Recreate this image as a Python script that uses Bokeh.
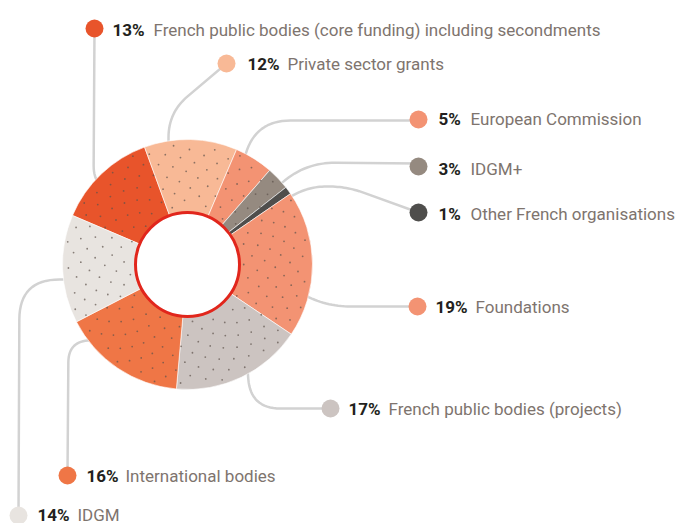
import math
from bokeh.plotting import figure
from bokeh.models import Range1d, ColumnDataSource
from bokeh.core.properties import value
from bokeh.embed import file_html
from bokeh.resources import INLINE

# ---- data ----
categories = [
    "French public bodies (core funding) including secondments",
    "Private sector grants",
    "European Commission",
    "IDGM+",
    "Other French organisations",
    "Foundations",
    "French public bodies (projects)",
    "International bodies",
    "IDGM",
]
shares = [13, 12, 5, 3, 1, 19, 17, 16, 14]
colors = ["#E8542B", "#F8B996", "#F39373", "#958A80", "#4F4E4C",
          "#F39373", "#CCC4C1", "#EF7646", "#E8E4E0"]

# ---- layout (pixel coordinates, y measured from top) ----
W, H = 677, 523
CX, CY = 187, 264
R_OUT, R_IN = 125, 52
START_DEG = 156.9

dot_xy = [(94, 28), (226, 63), (418, 119), (418, 166), (418, 212),
          (417, 306), (330, 408), (67, 475), (18, 515)]
pct_x = [112, 247, 438, 438, 438, 435, 348, 86, 37]
lab_x = [153, 287, 470, 470, 470, 475, 388, 125, 77]
txt_y = [29, 63, 118, 168, 213, 306, 408, 475, 514]

leaders = [
    ([(94, 28), (93, 190), (130, 190)], 25),
    ([(226, 63), (168, 112), (168, 165)], 25),
    ([(418, 120), (255, 120), (238, 178)], 35),
    ([(418, 163), (305, 162), (268, 194)], 30),
    ([(418, 212), (346, 186), (308, 186), (280, 202)], 18),
    ([(418, 306), (325, 306), (292, 288)], 25),
    ([(330, 408), (250, 408), (247, 368)], 30),
    ([(67, 475), (68, 340), (100, 340)], 22),
    ([(18, 515), (19, 279), (75, 279)], 40),
]

FONT = "Roboto"
FS = "17px"
N_SPECKS = 230  # decorative speckle texture on the ring


def Y(y):
    return H - y


def rounded(points, r):
    pts = [(x, Y(y)) for x, y in points]
    out = [pts[0]]
    for i in range(1, len(pts) - 1):
        ax, ay = pts[i - 1]
        px, py = pts[i]
        bx, by = pts[i + 1]
        d1 = math.hypot(ax - px, ay - py)
        d2 = math.hypot(bx - px, by - py)
        rr = min(r, d1 * 0.9, d2 * 0.9)
        u1 = ((ax - px) / d1, (ay - py) / d1)
        u2 = ((bx - px) / d2, (by - py) / d2)
        s = (px + u1[0] * rr, py + u1[1] * rr)
        e = (px + u2[0] * rr, py + u2[1] * rr)
        n = 16
        for k in range(n + 1):
            t = k / n
            x = (1 - t) ** 2 * s[0] + 2 * (1 - t) * t * px + t ** 2 * e[0]
            y = (1 - t) ** 2 * s[1] + 2 * (1 - t) * t * py + t ** 2 * e[1]
            out.append((x, y))
    out.append(pts[-1])
    return [p[0] for p in out], [p[1] for p in out]


p = figure(width=W, height=H, x_range=Range1d(0, W), y_range=Range1d(0, H),
           output_backend="svg", toolbar_location=None, min_border=0)
p.axis.visible = False
p.grid.visible = False
p.outline_line_color = None
p.background_fill_color = "white"
p.border_fill_color = "white"

# leader lines
xs, ys = [], []
for pts, r in leaders:
    lx, ly = rounded(pts, r)
    xs.append(lx)
    ys.append(ly)
p.multi_line(xs=xs, ys=ys, line_color="#D2D2D2", line_width=2.5)

# wedges
starts, ends = [], []
cum = 0
for v in shares:
    s = START_DEG - 3.6 * cum
    cum += v
    e = START_DEG - 3.6 * cum
    starts.append(math.radians(s))
    ends.append(math.radians(e))

src = ColumnDataSource(dict(x=[CX] * len(shares), y=[Y(CY)] * len(shares),
                            start=starts, end=ends, color=colors, cat=categories))
p.annular_wedge(x="x", y="y", inner_radius=R_IN, outer_radius=R_OUT,
                start_angle="start", end_angle="end", direction="clock",
                fill_color="color", line_color="white", line_width=0.6,
                source=src)

# decorative speckles (sunflower lattice across the ring)
golden = math.pi * (3 - math.sqrt(5))
sx, sy = [], []
for k in range(N_SPECKS):
    rr = math.sqrt((R_IN + 4) ** 2 + ((R_OUT - 3) ** 2 - (R_IN + 4) ** 2) * (k + 0.5) / N_SPECKS)
    th = k * golden
    sx.append(CX + rr * math.cos(th))
    sy.append(Y(CY) + rr * math.sin(th))
p.scatter(x=sx, y=sy, size=1.8, fill_color="#5E534C", line_color=None,
          fill_alpha=0.7)

# centre ring
p.circle(x=[CX], y=[Y(CY)], radius=R_IN, fill_color="white",
         line_color="#E1261C", line_width=3)

# markers
p.scatter(x=[d[0] for d in dot_xy], y=[Y(d[1]) for d in dot_xy], size=18,
          fill_color=colors, line_color=None)

# labels
p.text(x=pct_x, y=[Y(t) for t in txt_y], text=[f"{v}%" for v in shares],
       text_font=value(FONT), text_font_style="bold", text_font_size=FS,
       text_color="#231F20", text_baseline="middle", text_align="left")
p.text(x=lab_x, y=[Y(t) for t in txt_y], text=categories,
       text_font=value(FONT), text_font_size=FS,
       text_color="#7E746E", text_baseline="middle", text_align="left")

open("out.html", "w").write(file_html(p, INLINE))
